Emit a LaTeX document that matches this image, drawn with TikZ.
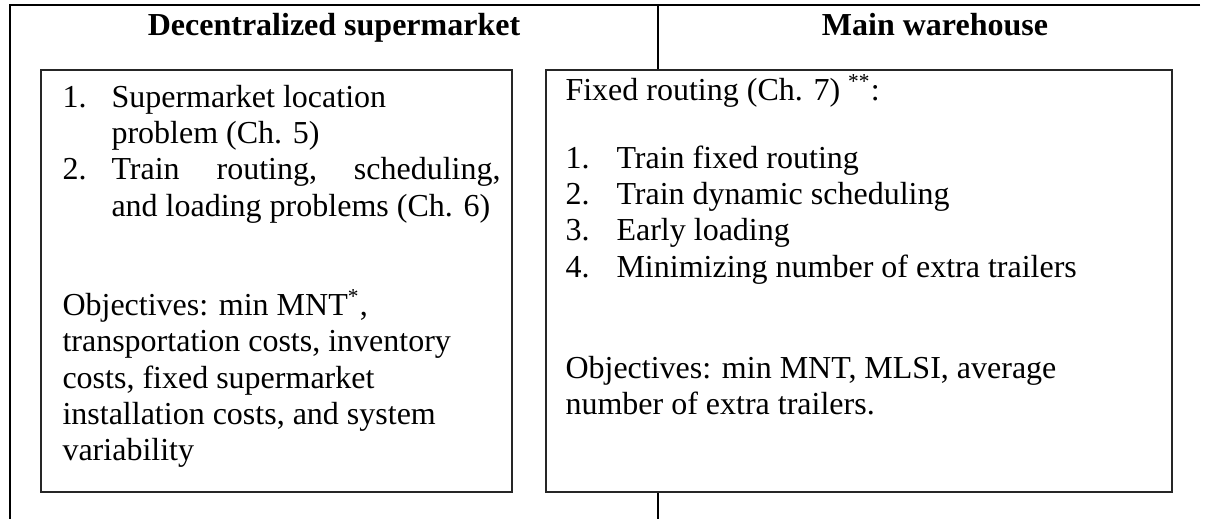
\documentclass[tikz,border=0pt]{standalone}
\usepackage{fontspec}
\setmainfont{Liberation Serif}
\begin{document}
\begin{tikzpicture}[x=0.375pt,y=-0.375pt,
  txt/.style={anchor=base west, inner sep=0pt, font=\fontsize{12}{14}\selectfont},
  head/.style={anchor=base, inner sep=0pt, font=\fontsize{12}{14}\selectfont\bfseries},
  tline/.style={draw=black, line width=0.75pt},
  box/.style={draw=black!85, fill=white, line width=0.75pt}]
\useasboundingbox (0,0) rectangle (1209,519);
\fill[white] (0,0) rectangle (1209,519);
% table lines
\draw[tline] (1200,5) -- (10,5) -- (10,519);
\draw[tline] (658,5) -- (658,519);
% boxes
\draw[box] (41,70) rectangle (512,492);
\draw[box] (546,70) rectangle (1172,492);
% headers
\node[head] (h1) at (334,35) {Decentralized supermarket};
\node[head] (h2) at (935,35) {Main warehouse};
% left box
\node[txt] (l1n) at (62,107) {1.};
\node[txt] (l1a) at (111,107) {Supermarket location};
\node[txt] (l1b) at (111,143) {problem (Ch. 5)};
\node[txt] (l2n) at (62,179) {2.};
\node[txt] (l2a) at (111,179) {\makebox[145.9pt][l]{Train\hfill routing,\hfill scheduling,}};
\node[txt] (l2b) at (111,216) {and loading problems (Ch. 6)};
\node[txt] (lo1) at (62,315) {Objectives: min MNT\textsuperscript{*},};
\node[txt] (lo2) at (62,351) {transportation costs, inventory};
\node[txt] (lo3) at (62,388) {costs, fixed supermarket};
\node[txt] (lo4) at (62,424) {installation costs, and system};
\node[txt] (lo5) at (62,460) {variability};
% right box
\node[txt] (r0) at (565,100) {Fixed routing (Ch. 7) \textsuperscript{**}:};
\node[txt] (r1n) at (565,168) {1.};
\node[txt] (r1) at (616,168) {Train fixed routing};
\node[txt] (r2n) at (565,204) {2.};
\node[txt] (r2) at (616,204) {Train dynamic scheduling};
\node[txt] (r3n) at (565,240) {3.};
\node[txt] (r3) at (616,240) {Early loading};
\node[txt] (r4n) at (565,277) {4.};
\node[txt] (r4) at (616,277) {Minimizing number of extra trailers};
\node[txt] (ro1) at (565,378) {Objectives: min MNT, MLSI, average};
\node[txt] (ro2) at (565,414) {number of extra trailers.};
\end{tikzpicture}
\end{document}
